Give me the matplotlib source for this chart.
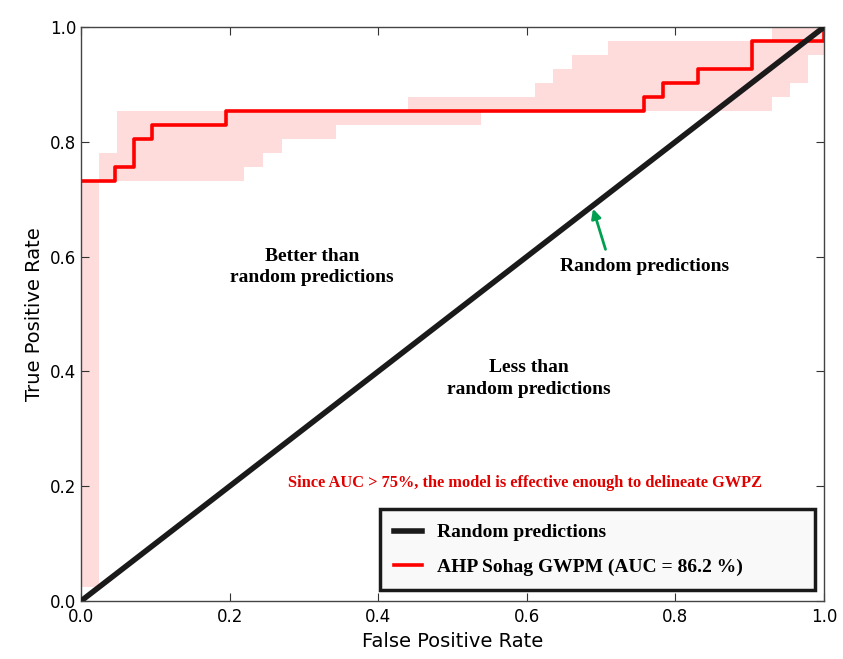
import matplotlib

matplotlib.use("Agg")
import matplotlib.pyplot as plt
import numpy as np

# ROC curve (step, post)
roc_fpr = [0.0, 0.046, 0.071, 0.096, 0.195, 0.758, 0.783, 0.830, 0.903, 1.0]
roc_tpr = [0.732, 0.756, 0.805, 0.829, 0.854, 0.878, 0.902, 0.927, 0.976, 1.0]

# confidence band, one value per interval between edges
band_edges = [0.0, 0.024, 0.048, 0.220, 0.245, 0.270, 0.343, 0.440, 0.538,
              0.611, 0.635, 0.661, 0.709, 0.930, 0.954, 0.978, 1.0]
band_upper = [0.732, 0.780, 0.854, 0.854, 0.854, 0.854, 0.854, 0.878, 0.878,
              0.902, 0.927, 0.951, 0.976, 1.0, 1.0, 1.0]
band_lower = [0.024, 0.732, 0.732, 0.756, 0.780, 0.805, 0.829, 0.829, 0.854,
              0.854, 0.854, 0.854, 0.854, 0.878, 0.902, 0.951]

diag = [0.0, 1.0]
ticks = [0.0, 0.2, 0.4, 0.6, 0.8, 1.0]

SERIF = ["Liberation Serif", "DejaVu Serif"]

fig = plt.figure(figsize=(8.43, 6.59), dpi=100)
ax = fig.add_axes([0.0961, 0.088, 0.8814, 0.871])

ax.stairs(band_upper, band_edges, baseline=band_lower, fill=True,
          color="#ffdcdc", linewidth=0, zorder=1)
ax.step(roc_fpr, roc_tpr, where="post", color="#ff0000", linewidth=2.6,
        zorder=2, label="AHP Sohag GWPM (AUC = 86.2 %)")
ax.plot(diag, diag, color="#1a1a1a", linewidth=4, zorder=3,
        label="Random predictions")

ax.set_xlim(0, 1)
ax.set_ylim(0, 1)
ax.set_xticks(ticks)
ax.set_yticks(ticks)
ax.tick_params(direction="in", top=True, right=True, length=6, width=0.8,
               labelsize=12, colors="#333333", labelcolor="black")
ax.tick_params(axis="x", pad=5)
for sp in ax.spines.values():
    sp.set_color("#444444")
    sp.set_linewidth(1.0)
ax.set_xlabel("False Positive Rate", fontsize=14)
ax.set_ylabel("True Positive Rate", fontsize=14)

txt = dict(fontfamily=SERIF, fontweight="bold", fontsize=14, ha="center",
           va="center", linespacing=1.35)
ax.text(0.311, 0.582, "Better than\nrandom predictions", **txt)
ax.text(0.758, 0.582, "Random predictions", **txt)
ax.text(0.603, 0.388, "Less than\nrandom predictions", **txt)
ax.text(0.598, 0.206, "Since AUC > 75%, the model is effective enough to delineate GWPZ",
        fontfamily=SERIF, fontweight="bold", fontsize=11.8, color="#e00000",
        ha="center", va="center")
ax.annotate("", xy=(0.688, 0.688), xytext=(0.707, 0.608),
            arrowprops=dict(arrowstyle="-|>", color="#00a050", lw=2,
                            mutation_scale=14))

handles, labels = ax.get_legend_handles_labels()
leg = ax.legend(handles[::-1], labels[::-1], loc="lower left",
                bbox_to_anchor=(0.402, 0.019, 0.586, 0.136), mode="expand",
                borderaxespad=0, fancybox=False, framealpha=1,
                prop=dict(family=SERIF, weight="bold", size=14),
                handlelength=1.4, labelspacing=0.85, borderpad=0.75)
leg.get_frame().set_edgecolor("#1a1a1a")
leg.get_frame().set_linewidth(2.5)
leg.get_frame().set_facecolor("#f9f9f9")

fig.savefig("out.png", dpi=100)
